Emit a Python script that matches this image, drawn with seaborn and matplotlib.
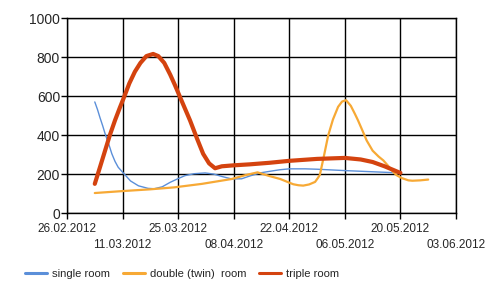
import matplotlib
matplotlib.use("Agg")
import matplotlib.pyplot as plt
import seaborn as sns
import pandas as pd

base = pd.Timestamp("2012-02-26")

single_days = [7, 7.7, 8.3, 9.0, 9.6, 10.5, 11.3, 12.1, 12.9, 14.4, 16, 18, 20.4, 22, 24, 26, 28, 29.7, 32, 34.8, 37, 39, 41.5, 44, 46, 48.6, 51, 53.5, 56, 60, 63, 70, 77, 84]
single_vals = [570, 530, 490, 447, 407, 355, 304, 265, 235, 201, 165, 140, 127, 125, 135, 158, 177, 192, 202, 206, 200, 188, 175, 176, 190, 206, 214, 222, 227, 227, 225, 218, 212, 206]

double_days = [7, 14, 21, 27, 34, 41.5, 45, 48, 51, 53.7, 57, 58.3, 59.5, 61, 62.5, 63.2, 63.7, 64.7, 65.8, 67, 68.3, 69.3, 70.3, 71.5, 72.5, 73.3, 74.5, 75.5, 77, 78.5, 79.7, 81, 82, 83, 84.3, 86, 87, 89, 91]
double_vals = [103, 113, 122, 132, 150, 175, 195, 209, 190, 175, 148, 143, 141, 147, 160, 180, 196, 290, 398, 480, 545, 572, 579, 550, 510, 476, 420, 372, 320, 290, 270, 240, 215, 195, 180, 168, 166, 168, 172]

triple_days = [7, 8.3, 9.6, 10.8, 12.1, 13.3, 14.4, 15.7, 17.1, 18.5, 20, 21.7, 23, 24.5, 26, 27.2, 29, 31, 32.7, 34.3, 35.8, 37.3, 39, 42, 46, 51, 56, 63, 70, 74, 77, 80, 84]
triple_vals = [150, 235, 321, 400, 476, 540, 596, 665, 725, 770, 805, 816, 805, 770, 710, 656, 570, 475, 385, 304, 255, 230, 240, 245, 250, 258, 268, 278, 283, 275, 262, 240, 206]

tick_dates = ["26.02.2012", "11.03.2012", "25.03.2012", "08.04.2012",
              "22.04.2012", "06.05.2012", "20.05.2012", "03.06.2012"]
y_ticks = [0, 200, 400, 600, 800, 1000]

names = ["single room", "double (twin)  room", "triple room"]
colors = ["#5B8FD9", "#F7A935", "#D4430F"]
widths = [1.0, 1.6, 3.0]

rows = []
for name, days, vals in zip(names, [single_days, double_days, triple_days],
                            [single_vals, double_vals, triple_vals]):
    for d, v in zip(days, vals):
        rows.append({"date": base + pd.Timedelta(days=d), "value": v, "series": name})
df = pd.DataFrame(rows)

sns.set_style("white")
plt.rcParams["font.family"] = ["Liberation Sans", "DejaVu Sans"]

fig = plt.figure(figsize=(5.0, 2.96), dpi=100)
ax = fig.add_axes([0.134, 0.280, 0.778, 0.659])

for name, c, w in zip(names, colors, widths):
    sub = df[df["series"] == name]
    sns.lineplot(data=sub, x="date", y="value", ax=ax, color=c, linewidth=w,
                 label=name, estimator=None, sort=True)

tdates = [pd.to_datetime(t, format="%d.%m.%Y") for t in tick_dates]
ax.set_xlim(tdates[0], tdates[-1])
ax.set_ylim(0, 1000)
ax.set_xticks(tdates)
ax.set_xticklabels([t if i % 2 == 0 else "\n" + t for i, t in enumerate(tick_dates)],
                   fontsize=8.5, linespacing=1.5)
ax.set_yticks(y_ticks)
ax.set_yticklabels([str(v) for v in y_ticks], fontsize=10)
ax.grid(True, color="black", linewidth=1.0)
ax.tick_params(axis="x", length=4, width=1, color="black", direction="out",
               bottom=True, pad=3)
ax.tick_params(axis="y", length=4, width=1, color="black", direction="out",
               left=True, pad=1)
for s in ax.spines.values():
    s.set_color("black")
    s.set_linewidth(1.0)
ax.set_xlabel("")
ax.set_ylabel("")

leg = ax.legend(loc="lower left", bbox_to_anchor=(-0.12, -0.36), ncol=3, frameon=False,
                fontsize=8.1, handlelength=1.95, handletextpad=0.45, columnspacing=1.15,
                borderaxespad=0.0)
for line in leg.get_lines():
    line.set_linewidth(2.2)

fig.savefig("out.png", dpi=100)
